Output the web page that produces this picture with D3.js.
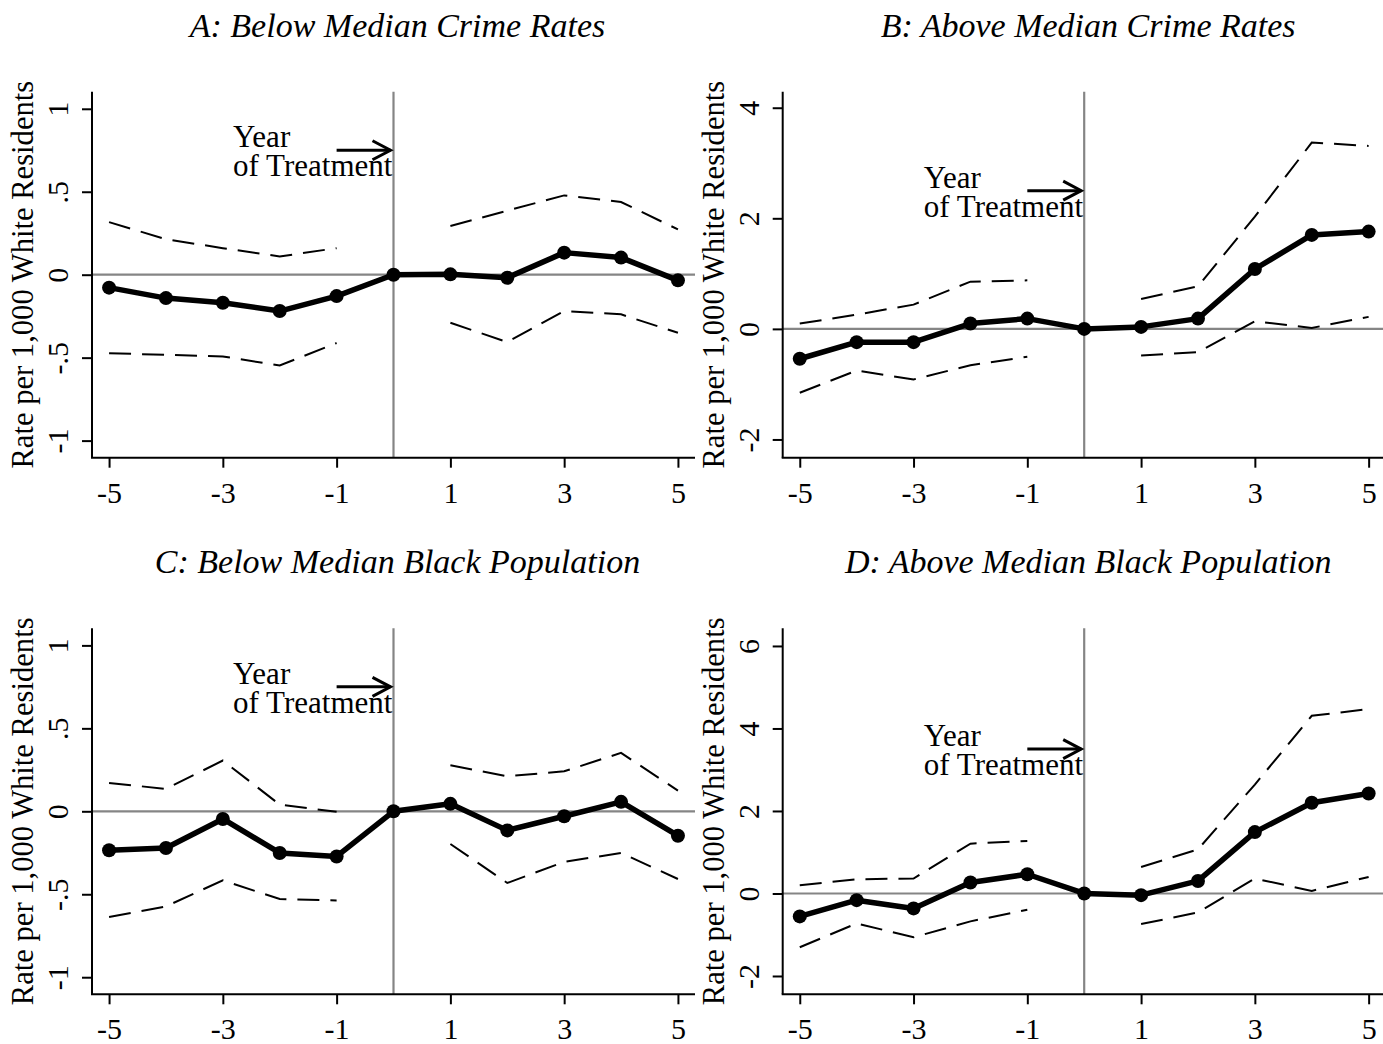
<!DOCTYPE html>
<html><head><meta charset="utf-8">
<script src="https://cdn.jsdelivr.net/npm/d3@7"></script>
<style>
body{margin:0;background:#fff}
svg{display:block}
text{font-family:"Liberation Serif","Times New Roman",serif;fill:#000}
</style>
</head><body>
<svg id="chart" width="1383" height="1044"></svg>
<script>
// ---- data ----
const years = [-5,-4,-3,-2,-1,0,1,2,3,4,5];
const preYears = [-5,-4,-3,-2,-1];
const postYears = [1,2,3,4,5];
const xTicks = [-5,-3,-1,1,3,5];

const yTicksA = [-1,-0.5,0,0.5,1];
const yLabelsA = ["-1","-.5","0",".5","1"];
const yTicksB = [-2,0,2,4];
const yLabelsB = ["-2","0","2","4"];
const yTicksD = [-2,0,2,4,6];
const yLabelsD = ["-2","0","2","4","6"];

const titles = ["A: Below Median Crime Rates","B: Above Median Crime Rates",
                "C: Below Median Black Population","D: Above Median Black Population"];

const estA = [-0.078,-0.141,-0.169,-0.219,-0.129,0,0.002,-0.018,0.133,0.103,-0.034];
const upperA_pre = [0.317,0.214,0.160,0.110,0.160];
const lowerA_pre = [-0.473,-0.483,-0.493,-0.547,-0.412];
const upperA_post = [0.293,0.386,0.478,0.438,0.273];
const lowerA_post = [-0.290,-0.406,-0.219,-0.239,-0.350];

const estB = [-0.54,-0.24,-0.24,0.096,0.186,0,0.036,0.186,1.083,1.70,1.76];
const upperB_pre = [0.096,0.258,0.439,0.854,0.878];
const lowerB_pre = [-1.155,-0.753,-0.915,-0.657,-0.505];
const upperB_post = [0.541,0.769,2.03,3.37,3.31];
const lowerB_post = [-0.482,-0.422,0.137,0.018,0.217];

const estC = [-0.235,-0.221,-0.046,-0.251,-0.272,0,0.045,-0.115,-0.030,0.057,-0.147];
const upperC_pre = [0.171,0.135,0.306,0.040,-0.003];
const lowerC_pre = [-0.637,-0.573,-0.416,-0.529,-0.537];
const upperC_post = [0.278,0.211,0.241,0.352,0.125];
const lowerC_post = [-0.197,-0.432,-0.305,-0.251,-0.408];

const estD = [-0.556,-0.162,-0.362,0.266,0.466,0,-0.041,0.304,1.488,2.198,2.423];
const upperD_pre = [0.200,0.345,0.362,1.208,1.271];
const lowerD_pre = [-1.304,-0.725,-1.063,-0.676,-0.396];
const upperD_post = [0.643,1.07,2.64,4.307,4.469];
const lowerD_post = [-0.742,-0.459,0.362,0.063,0.401];

const arrowYs = [0.75, 2.5, 0.75, 3.5];

// ---- layout ----
const W = 603, H = 366;
const panels = [
  {title:titles[0], est:estA, up:[upperA_pre,upperA_post], lo:[lowerA_pre,lowerA_post], ticks:yTicksA, labels:yLabelsA, dom:[-1.103,1.103], arrowY:arrowYs[0], left:92, top:91.7},
  {title:titles[1], est:estB, up:[upperB_pre,upperB_post], lo:[lowerB_pre,lowerB_post], ticks:yTicksB, labels:yLabelsB, dom:[-2.33,4.29], arrowY:arrowYs[1], left:782.7, top:91.7},
  {title:titles[2], est:estC, up:[upperC_pre,upperC_post], lo:[lowerC_pre,lowerC_post], ticks:yTicksA, labels:yLabelsA, dom:[-1.103,1.103], arrowY:arrowYs[2], left:92, top:628.3},
  {title:titles[3], est:estD, up:[upperD_pre,upperD_post], lo:[lowerD_pre,lowerD_post], ticks:yTicksD, labels:yLabelsD, dom:[-2.444,6.428], arrowY:arrowYs[3], left:782.7, top:628.3}
];

const svg = d3.select("#chart");
const gray = "#858585";

panels.forEach(p => {
  const g = svg.append("g").attr("transform", `translate(${p.left},${p.top})`);
  const x = d3.scaleLinear().domain([-5.3,5.3]).range([0,W]);
  const y = d3.scaleLinear().domain(p.dom).range([H,0]);

  // reference lines
  g.append("line").attr("x1",0).attr("x2",W).attr("y1",y(0)).attr("y2",y(0))
    .attr("stroke",gray).attr("stroke-width",2.2);
  g.append("line").attr("x1",x(0)).attr("x2",x(0)).attr("y1",0).attr("y2",H)
    .attr("stroke",gray).attr("stroke-width",2.2);

  // confidence bands (dashed)
  const line = d3.line().x(d=>x(d[0])).y(d=>y(d[1]));
  [[preYears,0],[postYears,1]].forEach(([yrs,i]) => {
    [p.up[i], p.lo[i]].forEach(vals => {
      g.append("path").datum(yrs.map((yr,k)=>[yr, vals[k]]))
        .attr("d", line).attr("fill","none").attr("stroke","#000")
        .attr("stroke-width",2).attr("stroke-dasharray","22,11");
    });
  });

  // estimate line + markers
  const pts = years.map((yr,k)=>[yr, p.est[k]]);
  g.append("path").datum(pts).attr("d", line).attr("fill","none")
    .attr("stroke","#000").attr("stroke-width",5.5).attr("stroke-linejoin","round");
  g.selectAll("circle.m").data(pts).join("circle").attr("class","m")
    .attr("cx",d=>x(d[0])).attr("cy",d=>y(d[1])).attr("r",7).attr("fill","#000");

  // axes
  g.append("line").attr("x1",0).attr("x2",0).attr("y1",0).attr("y2",H)
    .attr("stroke","#000").attr("stroke-width",2);
  g.append("line").attr("x1",-1).attr("x2",W).attr("y1",H).attr("y2",H)
    .attr("stroke","#000").attr("stroke-width",2);

  const yAx = g.append("g").call(d3.axisLeft(y).tickValues(p.ticks)
      .tickFormat((d,i)=>p.labels[i]).tickSize(10).tickSizeOuter(0));
  yAx.select(".domain").remove();
  yAx.selectAll(".tick line").attr("stroke","#000").attr("stroke-width",2);
  yAx.selectAll(".tick text").attr("transform","rotate(-90)")
    .attr("x",0).attr("y",-24).attr("dy",0).attr("text-anchor","middle")
    .style("font-size","30px").style("font-family","'Liberation Serif',serif").attr("fill","#000");

  const xAx = g.append("g").attr("transform",`translate(0,${H})`)
    .call(d3.axisBottom(x).tickValues(xTicks).tickFormat(d=>String(d)).tickSize(10).tickSizeOuter(0));
  xAx.select(".domain").remove();
  xAx.selectAll(".tick line").attr("stroke","#000").attr("stroke-width",2);
  xAx.selectAll(".tick text").attr("y",45).attr("dy",0)
    .style("font-size","30px").style("font-family","'Liberation Serif',serif").attr("fill","#000");

  // y axis title
  g.append("text").attr("transform",`translate(-58.7,${H/2}) rotate(-90)`)
    .attr("text-anchor","middle").style("font-size","30.6px")
    .text("Rate per 1,000 White Residents");

  // panel title
  g.append("text").attr("x",W/2+4).attr("y",-55).attr("text-anchor","middle")
    .style("font-size","34px").style("font-style","italic").text(p.title);

  // annotation
  const ay = y(p.arrowY);
  const x0 = x(-1), x1 = x(0) - 3;
  g.append("line").attr("x1",x0).attr("x2",x1).attr("y1",ay).attr("y2",ay)
    .attr("stroke","#000").attr("stroke-width",3);
  g.append("path").attr("d",`M${x1-18},${ay-9.5} L${x1},${ay} L${x1-18},${ay+9.5}`)
    .attr("fill","none").attr("stroke","#000").attr("stroke-width",3);
  g.append("text").attr("x",x(-2.82)).attr("y",ay-3).style("font-size","31px").text("Year");
  g.append("text").attr("x",x(-2.82)).attr("y",ay+26).style("font-size","31px").text("of Treatment");
});
</script>
</body></html>
